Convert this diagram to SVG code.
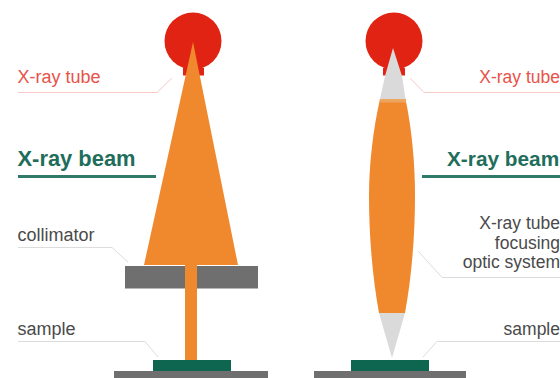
<svg xmlns="http://www.w3.org/2000/svg" width="560" height="378" viewBox="0 0 560 378">
<style>
text{font-family:"Liberation Sans",Arial,sans-serif;font-size:18px;fill:#4a4a4a}
.red{fill:#e8524a}
.head{font-weight:bold;font-size:21.9px;fill:#1f6e5c}
.rt{font-size:17.500px;text-anchor:end}
.rh{font-size:20.800px}
.lr{fill:none;stroke:#f9c9c5;stroke-width:1}
.lg{fill:none;stroke:#dcdcdc;stroke-width:1}
.lh{fill:none;stroke:#2f7a68;stroke-width:3}
.tube{fill:#e12313}
.beam{fill:#f0882d}
.band{fill:#eda560}
.grey{fill:#6f6f6f}
.pale{fill:#dadada}
.smp{fill:#0f6650}
</style>
<g id="connectors">
<path class="lr" d="M18 92.500H157L172 78"/>
<path class="lh" d="M18 176.500H156"/>
<path class="lg" d="M18 247.500H112L128 262"/>
<path class="lg" d="M18 341.500H145L158 357"/>
<path class="lr" d="M560 92.500H424L410 78"/>
<path class="lh" d="M560 176.500H422"/>
<path class="lg" d="M560 277.500H442L418 251"/>
<path class="lg" d="M560 341.500H437L423 357"/>
</g>
<g id="left-tube"><circle class="tube" cx="193" cy="41" r="28.500"/><rect class="tube" x="183" y="68" width="21" height="7.500"/></g>
<g id="left-beam"><path class="beam" d="M193 42L238 265H197V360H185V265H144Z"/></g>
<g id="left-collimator"><rect class="grey" x="125" y="266" width="60" height="22.500"/><rect class="grey" x="197" y="266" width="61" height="22.500"/></g>
<g id="left-sample"><rect class="smp" x="153" y="360" width="78" height="11"/></g>
<g id="left-stage"><rect class="grey" x="114" y="371" width="154" height="7"/></g>
<g id="right-tube"><circle class="tube" cx="394" cy="41" r="28.500"/><rect class="tube" x="383" y="68" width="22" height="7.500"/></g>
<g id="right-optic">
<path class="pale" d="M393 48L402 76L405.500 99H380L385 76Z"/>
<path class="beam" d="M380 99H405.500C412 130 415 165 415 195C415 240 411 280 405 313H379C373 280 369 240 369 195C369 165 373 130 380 99Z"/>
<path class="band" d="M380 99H405.500L406.200 102.500H379.400Z"/>
<path class="pale" d="M379 313H405L392 358Z"/>
</g>
<g id="right-sample"><rect class="smp" x="351" y="360" width="78" height="11"/></g>
<g id="right-stage"><rect class="grey" x="314" y="371" width="152" height="7"/></g>
<g id="labels">
<text class="red" x="17.500" y="83">X-ray tube</text>
<text class="head" x="17.500" y="165.500">X-ray beam</text>
<text x="17.500" y="241">collimator</text>
<text x="17.500" y="335">sample</text>
<text class="red rt" x="560" y="83">X-ray tube</text>
<text class="head rh" x="447" y="165.500">X-ray beam</text>
<text class="rt" x="560" y="229">X-ray tube</text>
<text class="rt" x="560" y="248.500">focusing</text>
<text class="rt" x="560" y="268">optic system</text>
<text class="rt" x="560" y="335">sample</text>
</g>
</svg>
